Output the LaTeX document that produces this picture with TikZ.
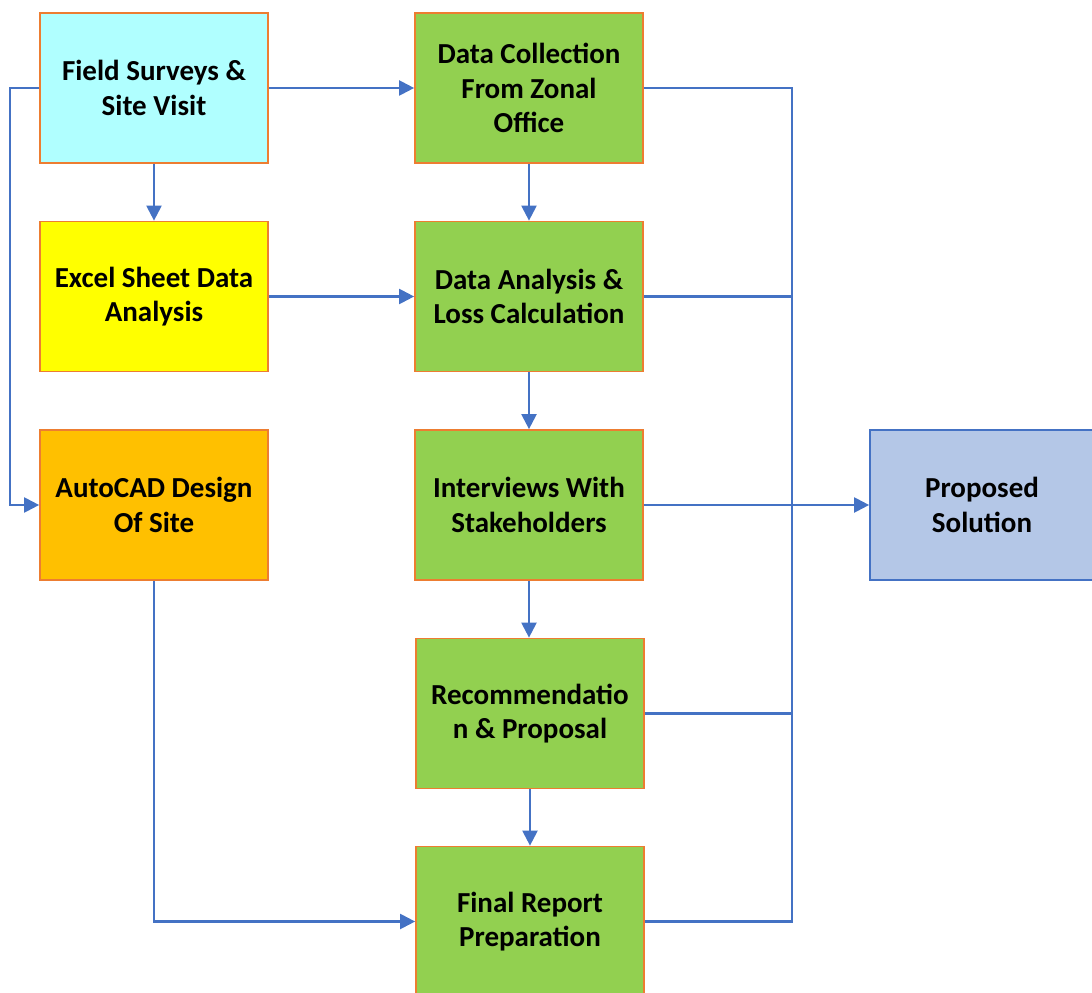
\documentclass[tikz,border=0pt]{standalone}
\usepackage{fontspec}
\setmainfont{Carlito}
\usepackage{xcolor}
\usetikzlibrary{arrows.meta}

\definecolor{boxorange}{HTML}{ED7D31}
\definecolor{linkblue}{HTML}{4472C4}
\definecolor{surveycyan}{HTML}{B0FFFF}
\definecolor{excelyellow}{HTML}{FFFF00}
\definecolor{cadorange}{HTML}{FFC000}
\definecolor{stepgreen}{HTML}{92D050}
\definecolor{solutionblue}{HTML}{B4C7E7}

\begin{document}
\begin{tikzpicture}[x=0.02cm,y=-0.02cm,
    stepbox/.style={draw=boxorange,line width=1pt,minimum width=4.56cm,minimum height=3cm,
      align=center,font=\fontsize{16.5}{19.5}\selectfont\bfseries},
    link/.style={draw=linkblue,line width=1.25pt},
    arrowlink/.style={link,-{Triangle[length=3mm,width=3mm]}}]
    \useasboundingbox (0,0) rectangle (1092,993);

    % left column
    \node[stepbox,fill=surveycyan] (survey) at (154,88) {Field Surveys \&\\Site Visit};
    \node[stepbox,fill=excelyellow] (excel) at (154,296.5) {Excel Sheet Data\\Analysis};
    \node[stepbox,fill=cadorange] (autocad) at (154,505) {AutoCAD Design\\Of Site};

    % middle column
    \node[stepbox,fill=stepgreen] (collect) at (529,88) {Data Collection\\From Zonal\\Office};
    \node[stepbox,fill=stepgreen] (analysis) at (529,296.5) {Data Analysis \&\\Loss Calculation};
    \node[stepbox,fill=stepgreen] (interview) at (529,505) {Interviews With\\Stakeholders};
    \node[stepbox,fill=stepgreen] (recommend) at (530,713.5) {Recommendatio\\n \& Proposal};
    \node[stepbox,fill=stepgreen] (report) at (530,921.5) {Final Report\\Preparation};

    % right
    \node[stepbox,draw=linkblue,fill=solutionblue,minimum width=4.48cm] (solution) at (982,505) {Proposed\\Solution};

    \coordinate (bustop) at (792,88);
    \coordinate (busbottom) at (792,921.5);

    \draw[arrowlink] (survey.east) -- (collect.west);
    \draw[arrowlink] (survey.south) -- (excel.north);
    \draw[arrowlink] (survey.west) -- ++(-29,0) |- (autocad.west);
    \draw[arrowlink] (excel.east) -- (analysis.west);
    \draw[arrowlink] (autocad.south) |- (report.west);
    \draw[arrowlink] (collect.south) -- (analysis.north);
    \draw[arrowlink] (analysis.south) -- (interview.north);
    \draw[arrowlink] (interview.south) -- (interview.south |- recommend.north);
    \draw[arrowlink] (recommend.south) -- (report.north);

    % bus on the right
    \draw[link] (collect.east) -- (bustop) -- (busbottom) -- (report.east);
    \draw[link] (analysis.east) -- (analysis.east -| bustop);
    \draw[link] (recommend.east) -- (recommend.east -| bustop);
    \draw[arrowlink] (interview.east) -- (solution.west);
  \end{tikzpicture}
\end{document}
